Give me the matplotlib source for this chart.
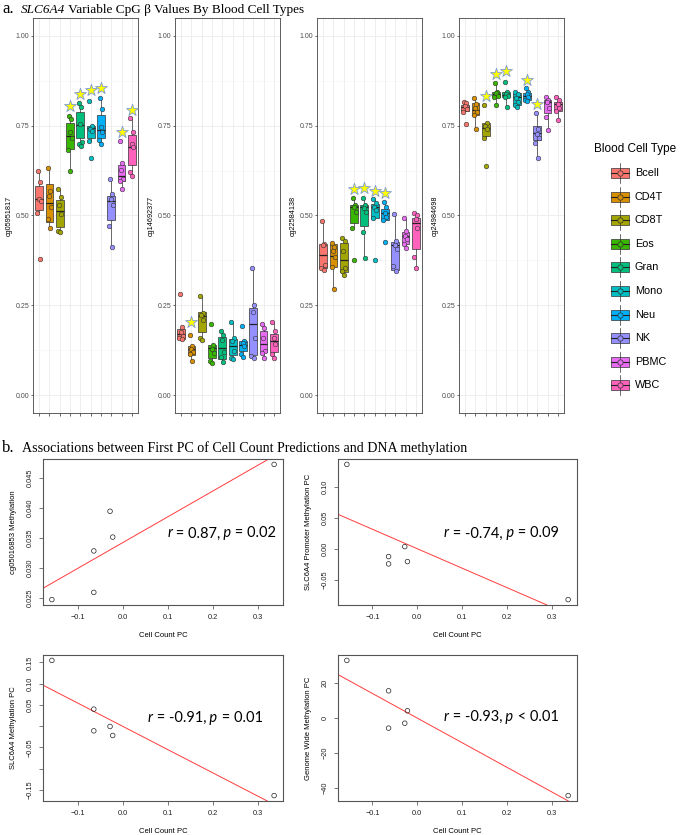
import numpy as np
import matplotlib
matplotlib.use('Agg')
import matplotlib.pyplot as plt
from matplotlib.patches import Rectangle

# ---- data -------------------------------------------------------------
cell_types = ['Bcell', 'CD4T', 'CD8T', 'Eos', 'Gran', 'Mono', 'Neu', 'NK', 'PBMC', 'WBC']
colors = ['#F8766D', '#D89000', '#A3A500', '#39B600', '#00BF7D',
          '#00BFC4', '#00B0F6', '#9590FF', '#E76BF3', '#FF62BC']
cpg_names = ['cg05951817', 'cg14692377', 'cg22584138', 'cg24984698']
nan = np.nan

# box stats per cell type: (whisker low, q1, median, q3, whisker high)
cg05951817_box = [(0.507, 0.515, 0.546, 0.581, 0.624), (0.464, 0.481, 0.536, 0.589, 0.632),
                  (0.453, 0.469, 0.512, 0.542, 0.573), (0.624, 0.684, 0.721, 0.758, 0.776),
                  (0.693, 0.716, 0.753, 0.788, 0.813), (0.708, 0.715, 0.744, 0.748, 0.748),
                  (0.700, 0.716, 0.739, 0.781, 0.827), (0.412, 0.488, 0.541, 0.555, 0.601),
                  (0.573, 0.596, 0.610, 0.642, 0.647), (0.610, 0.641, 0.692, 0.724, 0.771)]
cg05951817_pts = [[0.624, 0.594, 0.547, 0.541, 0.507, 0.378], [0.632, 0.569, 0.555, 0.523, 0.490, 0.464],
                  [0.573, 0.552, 0.530, 0.505, 0.458, 0.453], [0.776, 0.770, 0.733, 0.716, 0.682, 0.624],
                  [0.813, 0.802, 0.755, 0.706, 0.699, 0.694], [0.819, 0.748, 0.741, 0.735, 0.708, 0.661],
                  [0.827, 0.797, 0.746, 0.733, 0.710, 0.700], [0.601, 0.560, 0.545, 0.530, 0.472, 0.412],
                  [0.707, 0.647, 0.626, 0.601, 0.596, 0.573], [0.771, 0.733, 0.700, 0.690, 0.622, 0.610]]
cg05951817_star = [nan, nan, nan, 0.805, 0.838, 0.850, 0.854, nan, 0.732, 0.794]

cg14692377_box = [(0.155, 0.157, 0.171, 0.184, 0.192), (0.095, 0.111, 0.127, 0.136, 0.137),
                  (0.155, 0.175, 0.219, 0.230, 0.276), (0.090, 0.102, 0.132, 0.138, 0.139),
                  (0.092, 0.099, 0.132, 0.162, 0.178), (0.099, 0.111, 0.136, 0.157, 0.203),
                  (0.104, 0.124, 0.138, 0.150, 0.150), (0.102, 0.112, 0.198, 0.242, 0.355),
                  (0.104, 0.121, 0.141, 0.178, 0.199), (0.104, 0.120, 0.150, 0.171, 0.203)]
cg14692377_pts = [[0.281, 0.189, 0.175, 0.165, 0.160, 0.155], [0.168, 0.137, 0.128, 0.120, 0.113, 0.095],
                  [0.276, 0.229, 0.222, 0.210, 0.160, 0.153], [0.198, 0.139, 0.128, 0.118, 0.095, 0.090],
                  [0.178, 0.166, 0.152, 0.120, 0.105, 0.092], [0.203, 0.158, 0.150, 0.124, 0.103, 0.099],
                  [0.193, 0.150, 0.145, 0.136, 0.115, 0.106], [0.355, 0.252, 0.232, 0.160, 0.110, 0.102],
                  [0.199, 0.188, 0.160, 0.122, 0.118, 0.104], [0.203, 0.178, 0.158, 0.142, 0.115, 0.104]]
cg14692377_star = [nan, 0.203, nan, nan, nan, nan, nan, nan, nan, nan]

cg22584138_box = [(0.348, 0.353, 0.390, 0.422, 0.486), (0.296, 0.357, 0.388, 0.420, 0.424),
                  (0.334, 0.342, 0.376, 0.424, 0.438), (0.464, 0.480, 0.523, 0.529, 0.549),
                  (0.383, 0.471, 0.525, 0.529, 0.549), (0.492, 0.494, 0.523, 0.532, 0.546),
                  (0.486, 0.488, 0.506, 0.518, 0.537), (0.346, 0.348, 0.419, 0.426, 0.503),
                  (0.410, 0.422, 0.442, 0.454, 0.493), (0.353, 0.406, 0.480, 0.493, 0.507)]
cg22584138_pts = [[0.486, 0.422, 0.419, 0.361, 0.355, 0.348], [0.424, 0.413, 0.400, 0.385, 0.357, 0.296],
                  [0.438, 0.430, 0.400, 0.355, 0.345, 0.334], [0.549, 0.530, 0.523, 0.511, 0.464, 0.376],
                  [0.549, 0.528, 0.520, 0.510, 0.454, 0.383], [0.546, 0.534, 0.523, 0.515, 0.492, 0.376],
                  [0.537, 0.525, 0.506, 0.497, 0.488, 0.426], [0.503, 0.430, 0.418, 0.408, 0.360, 0.346],
                  [0.493, 0.457, 0.444, 0.435, 0.422, 0.410], [0.507, 0.500, 0.490, 0.465, 0.385, 0.353]]
cg22584138_star = [nan, nan, nan, 0.574, 0.576, 0.567, 0.562, nan, nan, nan]

cg24984698_box = [(0.787, 0.790, 0.801, 0.808, 0.817), (0.741, 0.779, 0.795, 0.813, 0.827),
                  (0.715, 0.722, 0.745, 0.757, 0.757), (0.808, 0.829, 0.839, 0.845, 0.868),
                  (0.802, 0.829, 0.836, 0.844, 0.845), (0.802, 0.808, 0.830, 0.841, 0.845),
                  (0.820, 0.822, 0.833, 0.841, 0.855), (0.661, 0.710, 0.731, 0.748, 0.785),
                  (0.738, 0.785, 0.817, 0.822, 0.830), (0.765, 0.790, 0.810, 0.817, 0.830)]
cg24984698_pts = [[0.817, 0.812, 0.805, 0.797, 0.789, 0.754], [0.827, 0.810, 0.800, 0.787, 0.779, 0.741],
                  [0.808, 0.757, 0.748, 0.740, 0.715, 0.637], [0.868, 0.845, 0.840, 0.833, 0.829, 0.808],
                  [0.873, 0.845, 0.838, 0.832, 0.829, 0.802], [0.845, 0.838, 0.828, 0.815, 0.808, 0.802],
                  [0.855, 0.845, 0.838, 0.830, 0.823, 0.820], [0.785, 0.740, 0.728, 0.715, 0.703, 0.661],
                  [0.830, 0.822, 0.815, 0.800, 0.775, 0.738], [0.830, 0.823, 0.810, 0.800, 0.790, 0.765]]
cg24984698_star = [nan, nan, 0.833, 0.893, 0.902, nan, 0.878, 0.811, nan, nan]

# part b
cell_count_pc = [-0.157, -0.064, -0.064, -0.028, -0.022, 0.336]
cg05016853_meth = [0.0247, 0.0328, 0.0259, 0.0394, 0.0351, 0.0472]
promoter_pc = [0.1359, -0.0123, -0.0241, 0.0037, -0.0204, -0.0815]
slc6a4_pc = [0.1547, 0.0401, -0.0109, -0.0007, -0.0219, -0.1632]
genome_pc = [32.95, 15.6, -5.7, -2.9, 4.2, -44.2]
stats_text = [('0.87', '= 0.02'), ('-0.74', '= 0.09'), ('-0.91', '= 0.01'), ('-0.93', '< 0.01')]

# ---- figure -----------------------------------------------------------
W, H = 685, 835
fig = plt.figure(figsize=(W / 100, H / 100), dpi=100)
SANS = 'Liberation Sans'
SERIF = 'Liberation Serif'


def px_axes(l, t, r, b):
    return fig.add_axes([l / W, 1 - b / H, (r - l) / W, (b - t) / H])


def rich_text(ax, x, y, pieces, va='baseline', **kw):
    t = ax.text(x, y, pieces[0][0], style=pieces[0][1], va=va, **kw)
    for s, st in pieces[1:]:
        t = ax.annotate(s, xy=(1, 0), xycoords=t, va='bottom', style=st, **kw)
    return t


# overlay for titles / legend, in pixel units
ax0 = fig.add_axes([0, 0, 1, 1])
ax0.set_xlim(0, W)
ax0.set_ylim(H, 0)
ax0.axis('off')

ax0.text(2, 13, 'a.', fontsize=12, family=SERIF, va='baseline')
rich_text(ax0, 21, 13, [('SLC6A4', 'italic'), (' Variable CpG β Values By Blood Cell Types', 'normal')],
          fontsize=9.5, family=SERIF)
ax0.text(2, 452, 'b.', fontsize=12, family=SERIF, va='baseline')
ax0.text(22, 452, 'Associations between First PC of Cell Count Predictions and DNA methylation',
         fontsize=10.1, family=SERIF, va='baseline')

# ---- part a: boxplots -------------------------------------------------
boxes = [cg05951817_box, cg14692377_box, cg22584138_box, cg24984698_box]
points = [cg05951817_pts, cg14692377_pts, cg22584138_pts, cg24984698_pts]
stars = [cg05951817_star, cg14692377_star, cg22584138_star, cg24984698_star]
lefts = [33, 175, 317, 459]
jitter = np.array([-0.13, 0.09, -0.03, 0.15, -0.17, 0.04])
pos = np.arange(1, len(cell_types) + 1)

for k in range(4):
    ax = px_axes(lefts[k], 18, lefts[k] + 105, 413)
    st = [dict(whislo=b[0], q1=b[1], med=b[2], q3=b[3], whishi=b[4], fliers=[]) for b in boxes[k]]
    bp = ax.bxp(st, positions=pos, widths=0.75, patch_artist=True, showcaps=False, showfliers=False,
                boxprops=dict(edgecolor='#333333', linewidth=0.5),
                medianprops=dict(color='#222222', linewidth=0.9),
                whiskerprops=dict(color='#333333', linewidth=0.5))
    for patch, c in zip(bp['boxes'], colors):
        patch.set_facecolor(c)
    for i, vals in enumerate(points[k]):
        ax.scatter(pos[i] + jitter[:len(vals)], vals, s=11, color=colors[i],
                   edgecolors='#333333', linewidths=0.4, zorder=3)
    ax.scatter(pos, stars[k], marker='*', s=80, color='#FFFF00', edgecolors='#7C9BD2',
               linewidths=0.6, zorder=4)
    ax.set_xlim(0.4, 10.6)
    ax.set_ylim(-0.05, 1.05)
    ax.set_yticks([0, 0.25, 0.5, 0.75, 1.0])
    ax.set_yticklabels(['%.2f' % v for v in [0, 0.25, 0.5, 0.75, 1.0]])
    ax.set_yticks([0.125, 0.375, 0.625, 0.875], minor=True)
    ax.set_xticks(pos)
    ax.set_xticklabels([])
    ax.grid(which='major', color='#EBEBEB', linewidth=0.6)
    ax.grid(which='minor', axis='y', color='#F3F3F3', linewidth=0.4)
    ax.set_axisbelow(True)
    ax.tick_params(which='major', length=1.8, width=0.5, color='#333333', pad=1,
                   labelsize=5, labelcolor='#4D4D4D')
    ax.tick_params(which='minor', length=0)
    for sp in ax.spines.values():
        sp.set_color('#444444')
        sp.set_linewidth(0.6)
    ax.set_ylabel(cpg_names[k], fontsize=5.2, family=SANS, labelpad=2)
    for lab in ax.get_yticklabels():
        lab.set_family(SANS)

# legend
ax0.text(594, 149, 'Blood Cell Type', fontsize=8.5, family=SANS, va='center')
for i, (name, c) in enumerate(zip(cell_types, colors)):
    yc = 173 + i * 23.6
    ax0.plot([620, 620], [yc - 10, yc + 10], color='#333333', lw=0.5)
    ax0.add_patch(Rectangle((611, yc - 5), 18, 10, facecolor=c, edgecolor='#333333', lw=0.5))
    ax0.plot([611, 629], [yc, yc], color='#222222', lw=0.8)
    ax0.plot(620, yc, 'o', mfc=c, mec='#333333', mew=0.5, ms=3.8)
    ax0.text(635, yc, name, fontsize=7.8, family=SANS, va='center')

# ---- part b: scatter plots --------------------------------------------
def fmt(v, nd):
    s = ('%.' + str(nd) + 'f') % abs(v)
    return ('\u2212' + s) if v < 0 else s


ys = [cg05016853_meth, promoter_pc, slc6a4_pc, genome_pc]
ylabels = ['cg05016853 Methylation', 'SLC6A4 Promoter Methylation PC',
           'SLC6A4 Methylation PC', 'Genome Wide Methylation PC']
yticks = [[0.025, 0.030, 0.035, 0.040, 0.045], [-0.05, 0.0, 0.05, 0.10],
          [-0.15, -0.10, -0.05, 0.0, 0.05, 0.10, 0.15], [-40, -20, 0, 20]]
ytlabels = [[fmt(v, 3) for v in yticks[0]], [fmt(v, 2) for v in yticks[1]],
            ['\u22120.15', '', '\u22120.05', '', '0.05', '0.10', '0.15'], [fmt(v, 0) for v in yticks[3]]]
frames = [(43, 459, 283, 605), (338, 459, 577, 605), (43, 655, 283, 801), (338, 655, 577, 801)]
text_pos = [(0.517, 0.49), (0.443, 0.49), (0.437, 0.57), (0.443, 0.575)]
x = np.array(cell_count_pc)

for k in range(4):
    ax = px_axes(*frames[k])
    y = np.array(ys[k])
    ax.scatter(x, y, s=11, facecolors='none', edgecolors='#222222', linewidths=0.5, zorder=3)
    slope, icpt = np.polyfit(x, y, 1)
    ax.axline((0, icpt), slope=slope, color='#FF3B3B', lw=0.7)
    xr = x.max() - x.min()
    yr = y.max() - y.min()
    ax.set_xlim(x.min() - 0.04 * xr, x.max() + 0.04 * xr)
    ax.set_ylim(y.min() - 0.04 * yr, y.max() + 0.04 * yr)
    xt = [-0.1, 0.0, 0.1, 0.2, 0.3]
    ax.set_xticks(xt)
    ax.set_xticklabels([fmt(v, 1) for v in xt], family=SANS)
    ax.set_yticks(yticks[k])
    ax.set_yticklabels(ytlabels[k], rotation=90, va='center', family=SANS)
    ax.tick_params(length=3, width=0.5, color='#444444', pad=3.5, labelsize=5.3, labelcolor='#222222')
    for sp in ax.spines.values():
        sp.set_color('#555555')
        sp.set_linewidth(0.8)
    ax.set_xlabel('Cell Count PC', fontsize=5.5, family=SANS, labelpad=8)
    ax.set_ylabel(ylabels[k], fontsize=5.5, family=SANS, labelpad=7)
    r_txt, p_txt = stats_text[k]
    rich_text(ax, text_pos[k][0], text_pos[k][1],
              [('r', 'italic'), (' = ' + r_txt + ',', 'normal'), (' p', 'italic'), (' ' + p_txt, 'normal')],
              va='center', transform=ax.transAxes, fontsize=10.5, family='Lato')

fig.savefig('out.png', dpi=100)
